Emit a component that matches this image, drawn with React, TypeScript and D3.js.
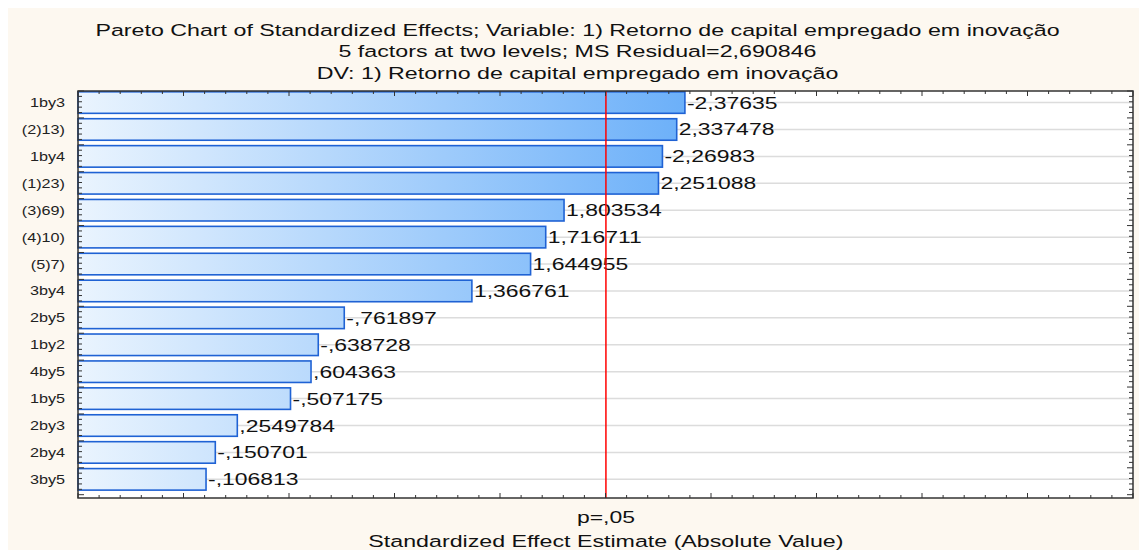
import React from 'react'
import * as d3 from 'd3'

const effects = ['1by3', '(2)13)', '1by4', '(1)23)', '(3)69)', '(4)10)', '(5)7)', '3by4', '2by5', '1by2', '4by5', '1by5', '2by3', '2by4', '3by5']
const estimates = [-2.37635, 2.337478, -2.26983, 2.251088, 1.803534, 1.716711, 1.644955, 1.366761, -0.761897, -0.638728, 0.604363, -0.507175, 0.2549784, -0.150701, -0.106813]
const pCritical = 2.002
const xDomain = [-0.5, 4.5]
const titleLines = [
    'Pareto Chart of Standardized Effects; Variable: 1) Retorno de capital empregado em inovação',
    '5 factors at two levels; MS Residual=2,690846',
    'DV: 1) Retorno de capital empregado em inovação',
]
const xTitle = 'Standardized Effect Estimate (Absolute Value)'
const pLabel = 'p=,05'

// statistica style: comma decimal, no leading zero
const fmt = (v: number) => String(v).replace('.', ',').replace(/^(-?)0,/, '$1,')

const App = () => {
    const ref = React.useRef<SVGSVGElement>(null)

    React.useEffect(() => {
        const width = 1139
        const height = 542
        const svg = d3.select(ref.current)
        svg.selectAll('*').remove()

        const sx = 1.35 // text looks horizontally stretched in the original
        const font = 'Liberation Sans, Arial, sans-serif'

        const margin = { top: 83, right: 14, bottom: 52, left: 70 }
        const innerWidth = width - margin.left - margin.right
        const innerHeight = height - margin.top - margin.bottom

        svg.append('rect').attr('width', width).attr('height', height).attr('fill', '#fdf8f0')

        const addText = (sel: any, x: number, y: number, txt: string, size: number, anchor = 'middle', color = '#111') =>
            sel
                .append('text')
                .attr('transform', 'translate(' + x + ',' + y + ') scale(' + sx + ',1)')
                .attr('text-anchor', anchor)
                .attr('font-family', font)
                .attr('font-size', size)
                .attr('fill', color)
                .text(txt)

        titleLines.forEach((t, i) => addText(svg, width / 2, 27.5 + i * 21.5, t, 17.2))

        const g = svg.append('g').attr('transform', 'translate(' + margin.left + ',' + margin.top + ')')

        const xScale = d3.scaleLinear().domain(xDomain).range([0, innerWidth])
        // bars sit a little higher than centered, leaving room at the bottom
        const yScale = d3.scaleBand().domain(effects).range([0.8, 404.5]).paddingInner(0.2).paddingOuter(0.1).align(0)

        g.append('rect').attr('width', innerWidth).attr('height', innerHeight).attr('fill', '#fff')

        const maxAbs = d3.max(estimates, (d) => Math.abs(d)) as number
        const grad = svg
            .append('defs')
            .append('linearGradient')
            .attr('id', 'barGrad')
            .attr('gradientUnits', 'userSpaceOnUse')
            .attr('x1', 0)
            .attr('x2', xScale(maxAbs))
            .attr('y1', 0)
            .attr('y2', 0)
        grad.append('stop').attr('offset', '0%').attr('stop-color', '#eaf4fe')
        grad.append('stop').attr('offset', '100%').attr('stop-color', '#6cb0f9')

        // grid lines through each bar
        g.selectAll('.grid')
            .data(effects)
            .enter()
            .append('line')
            .attr('x1', 0)
            .attr('x2', innerWidth)
            .attr('y1', (d) => (yScale(d) as number) + yScale.bandwidth() / 2)
            .attr('y2', (d) => (yScale(d) as number) + yScale.bandwidth() / 2)
            .attr('stroke', '#dcdcdc')
            .attr('stroke-width', 1.5)

        g.selectAll('.bar')
            .data(estimates)
            .enter()
            .append('rect')
            .attr('x', xScale(xDomain[0]))
            .attr('y', (d, i) => yScale(effects[i]) as number)
            .attr('width', (d) => xScale(Math.abs(d)) - xScale(xDomain[0]))
            .attr('height', yScale.bandwidth())
            .attr('fill', 'url(#barGrad)')
            .attr('stroke', '#1f62d4')
            .attr('stroke-width', 1.6)

        estimates.forEach((d, i) => {
            addText(g, xScale(Math.abs(d)) + 2, (yScale(effects[i]) as number) + yScale.bandwidth() / 2 + 6, fmt(d), 17, 'start')
            addText(g, -13, (yScale(effects[i]) as number) + yScale.bandwidth() / 2 + 4.5, effects[i], 12, 'end', '#222')
        })

        // significance line
        g.append('line')
            .attr('x1', xScale(pCritical))
            .attr('x2', xScale(pCritical))
            .attr('y1', 0)
            .attr('y2', innerHeight)
            .attr('stroke', '#ff0000')
            .attr('stroke-width', 1.5)

        // frame
        g.append('rect')
            .attr('width', innerWidth)
            .attr('height', innerHeight)
            .attr('fill', 'none')
            .attr('stroke', '#333')
            .attr('stroke-width', 1.5)

        // inward ticks
        const xt = d3.range(0, 51).map((i) => xDomain[0] + i * 0.1)
        xt.forEach((t, i) => {
            const len = i % 5 === 0 ? 5 : 3
            const x = xScale(t)
            g.append('line').attr('x1', x).attr('x2', x).attr('y1', innerHeight).attr('y2', innerHeight - len).attr('stroke', '#333')
            g.append('line').attr('x1', x).attr('x2', x).attr('y1', 0).attr('y2', len).attr('stroke', '#333')
        })
        const step = yScale.step() / 5
        d3.range(0, Math.floor(innerHeight / step) + 1).forEach((i) => {
            const y = i * step
            const len = i % 5 === 0 ? 6 : 4
            g.append('line').attr('x1', 0).attr('x2', len).attr('y1', y).attr('y2', y).attr('stroke', '#333')
            g.append('line').attr('x1', innerWidth).attr('x2', innerWidth - len).attr('y1', y).attr('y2', y).attr('stroke', '#333')
        })

        addText(g, xScale(pCritical), innerHeight + 25, pLabel, 17)
        addText(svg, margin.left + xScale(pCritical), height - 3, xTitle, 17.2)
    }, [])

    return (
        <div style={{ width: '1139px', height: '542px' }}>
            <svg ref={ref} width={1139} height={542} style={{ display: 'block' }}></svg>
        </div>
    )
}

export default App
